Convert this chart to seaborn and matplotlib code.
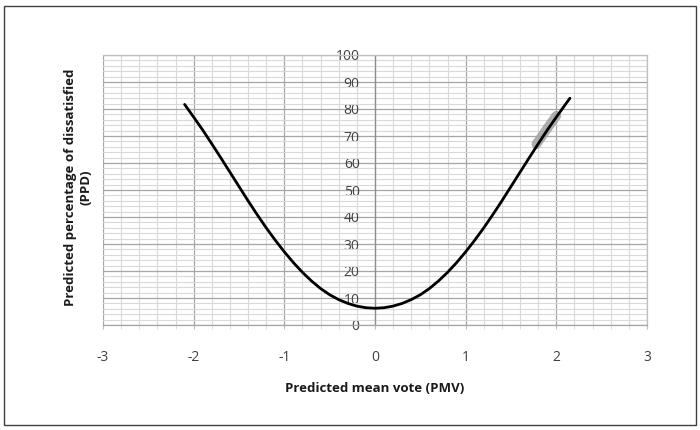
import numpy as np
import pandas as pd
import matplotlib
matplotlib.use('Agg')
import matplotlib.pyplot as plt
import seaborn as sns
from matplotlib.ticker import MultipleLocator

# values
pmv = [-2.1, -2.0, -1.9, -1.8, -1.7, -1.6, -1.5, -1.4, -1.3, -1.2, -1.1, -1.0,
       -0.9, -0.8, -0.7, -0.6, -0.5, -0.4, -0.3, -0.2, -0.1, 0.0,
       0.1, 0.2, 0.3, 0.4, 0.5, 0.6, 0.7, 0.8, 0.9, 1.0,
       1.1, 1.2, 1.3, 1.4, 1.5, 1.6, 1.7, 1.8, 1.9, 2.0, 2.1, 2.15]
ppd = [81.7, 77.0, 72.2, 67.1, 61.9, 56.6, 51.3, 46.0, 40.9, 36.0, 31.4, 27.1,
       23.1, 19.5, 16.3, 13.5, 11.2, 9.4, 8.0, 7.0, 6.4, 6.2,
       6.4, 7.0, 8.0, 9.4, 11.2, 13.5, 16.3, 19.5, 23.1, 27.1,
       31.4, 36.0, 40.9, 46.0, 51.3, 56.6, 61.9, 67.1, 72.2, 77.0, 81.7, 84.0]

# grey highlighted stretch near PMV = 2
band_pmv = [1.78, 1.9, 2.0]
band_ppd = [67.0, 72.8, 77.5]

x_ticks = [-3, -2, -1, 0, 1, 2, 3]
y_ticks = [0, 10, 20, 30, 40, 50, 60, 70, 80, 90, 100]

df = pd.DataFrame({'pmv': pmv, 'ppd': ppd})
band = pd.DataFrame({'pmv': band_pmv, 'ppd': band_ppd})

sns.set_style('white')
plt.rcParams['font.family'] = ['Open Sans', 'DejaVu Sans']

fig = plt.figure(figsize=(7, 4.3), dpi=100)
ax = fig.add_axes([103 / 700, 105 / 430, 544 / 700, 270 / 430])

sns.lineplot(data=band, x='pmv', y='ppd', ax=ax, color='#a0a0a0', linewidth=7,
             solid_capstyle='round', alpha=0.85, zorder=3)
sns.lineplot(data=df, x='pmv', y='ppd', ax=ax, color='black', linewidth=2.0, zorder=4)

ax.set_xlim(-3, 3)
ax.set_ylim(0, 100)
ax.set_xticks(x_ticks)
ax.set_yticks(y_ticks)
ax.set_xticklabels([str(t) for t in x_ticks])
ax.xaxis.set_minor_locator(MultipleLocator(0.2))
ax.yaxis.set_minor_locator(MultipleLocator(2))

ax.grid(which='major', color='#a6a6a6', linewidth=0.9)
ax.grid(which='minor', color='#d9d9d9', linewidth=0.8)
ax.set_axisbelow(True)

ax.spines['left'].set_position(('data', 0))
ax.spines['left'].set_color('#8c8c8c')
ax.spines['bottom'].set_color('#a6a6a6')
ax.spines['top'].set_color('#bfbfbf')
ax.spines['right'].set_color('#bfbfbf')
for s in ax.spines.values():
    s.set_linewidth(0.9)

ax.tick_params(axis='y', which='both', length=0, pad=11, labelsize=10, labelcolor='#404040')
ax.tick_params(axis='x', which='major', length=3, pad=15, labelsize=10, labelcolor='#404040',
               color='#bfbfbf', direction='out', bottom=True)
ax.tick_params(axis='x', which='minor', length=3, color='#d9d9d9', direction='out', bottom=True)
ax.set_xlabel('')
ax.set_ylabel('')

fig.text(375 / 700, 1 - 388 / 430, 'Predicted mean vote (PMV)', ha='center', va='center',
         fontsize=9.5, fontweight='bold', color='#1a1a1a')
fig.text(78 / 700, 1 - 187 / 430, 'Predicted percentage of dissatisfied\n(PPD)', ha='center',
         va='center', rotation=90, fontsize=9.5, fontweight='bold', color='#1a1a1a',
         linespacing=1.25)

border = plt.Rectangle((4 / 700, 5 / 430), 692 / 700, 419 / 430, transform=fig.transFigure,
                       fill=False, edgecolor='#404040', linewidth=1.0)
fig.patches.append(border)

fig.savefig('out.png', dpi=100)
